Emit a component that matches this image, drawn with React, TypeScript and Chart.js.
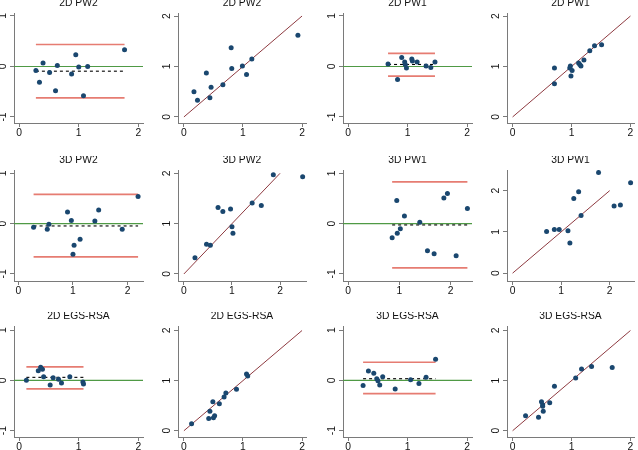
import React, { useEffect, useRef } from "react";
import { Chart, registerables } from "chart.js";
Chart.register(...registerables);

// ---------- data ----------
// 2D PW2
const pw2_2d_avg = [0.28, 0.34, 0.40, 0.51, 0.61, 0.64, 0.88, 0.95, 1.00, 1.08, 1.15, 1.77];
const pw2_2d_dif = [-0.08, -0.31, 0.07, -0.12, -0.48, 0.02, -0.15, 0.23, -0.01, -0.58, 0.00, 0.33];
const pw2_2d_loa = [0.435, -0.093, -0.62];
const pw2_2d_x = [0.17, 0.23, 0.38, 0.44, 0.46, 0.66, 0.80, 0.81, 0.99, 1.06, 1.15, 1.93];
const pw2_2d_y = [0.50, 0.33, 0.87, 0.38, 0.59, 0.64, 1.37, 0.96, 1.01, 0.84, 1.15, 1.62];
// 2D PW1
const pw1_2d_avg = [0.67, 0.83, 0.90, 0.95, 0.96, 0.98, 1.07, 1.08, 1.16, 1.31, 1.39, 1.46];
const pw1_2d_dif = [0.05, -0.26, 0.18, 0.09, 0.04, -0.03, 0.15, 0.11, 0.09, 0.01, -0.02, 0.09];
const pw1_2d_loa = [0.26, 0.04, -0.19];
const pw1_2d_x = [0.71, 0.71, 0.97, 0.98, 0.99, 1.01, 1.12, 1.14, 1.16, 1.21, 1.31, 1.39, 1.51];
const pw1_2d_y = [0.97, 0.66, 0.97, 1.01, 0.81, 0.92, 1.07, 1.04, 1.01, 1.13, 1.31, 1.41, 1.43];
// 3D PW2
const pw2_3d_avg = [0.28, 0.53, 0.56, 0.90, 0.97, 1.02, 1.00, 1.13, 1.40, 1.47, 1.90, 2.19];
const pw2_3d_dif = [-0.07, -0.11, -0.01, 0.23, 0.06, -0.43, -0.61, -0.31, 0.05, 0.27, -0.11, 0.54];
const pw2_3d_loa = [0.58, -0.046, -0.66];
const pw2_3d_x = [0.23, 0.47, 0.55, 0.71, 0.81, 0.97, 1.00, 1.02, 1.42, 1.61, 1.86, 2.47];
const pw2_3d_y = [0.32, 0.59, 0.57, 1.32, 1.24, 1.29, 0.94, 0.81, 1.41, 1.36, 1.97, 1.93];
// 3D PW1
const pw1_3d_avg = [0.86, 0.95, 0.96, 1.02, 1.10, 1.40, 1.55, 1.68, 1.87, 1.94, 2.11, 2.33];
const pw1_3d_dif = [-0.28, 0.46, -0.19, -0.10, 0.15, 0.03, -0.54, -0.60, 0.51, 0.60, -0.64, 0.30];
const pw1_3d_loa = [0.83, -0.026, -0.88];
const pw1_3d_x = [0.70, 0.86, 0.96, 1.14, 1.18, 1.26, 1.36, 1.41, 1.77, 2.09, 2.22, 2.43];
const pw1_3d_y = [1.01, 1.06, 1.06, 1.03, 0.73, 1.81, 1.97, 1.40, 2.44, 1.63, 1.65, 2.19];
// 2D EGS-RSA
const egs_2d_avg = [0.12, 0.32, 0.36, 0.39, 0.41, 0.52, 0.57, 0.66, 0.71, 0.85, 1.07, 1.08];
const egs_2d_dif = [0.00, 0.19, 0.26, 0.22, 0.07, -0.09, 0.05, 0.02, -0.05, 0.07, -0.03, -0.07];
const egs_2d_loa = [0.27, 0.06, -0.17];
const egs_2d_x = [0.13, 0.42, 0.44, 0.49, 0.50, 0.52, 0.60, 0.68, 0.71, 0.89, 1.06, 1.08];
const egs_2d_y = [0.14, 0.245, 0.39, 0.58, 0.26, 0.30, 0.54, 0.675, 0.755, 0.83, 1.13, 1.09];
// 3D EGS-RSA
const egs_3d_avg = [0.25, 0.34, 0.43, 0.48, 0.50, 0.53, 0.58, 0.79, 1.05, 1.19, 1.31, 1.47];
const egs_3d_dif = [-0.10, 0.185, 0.14, 0.03, -0.01, -0.09, 0.07, -0.17, 0.01, -0.06, 0.06, 0.42];
const egs_3d_loa = [0.36, 0.033, -0.265];
const egs_3d_x = [0.22, 0.44, 0.49, 0.51, 0.52, 0.51, 0.63, 0.71, 1.07, 1.17, 1.34, 1.69];
const egs_3d_y = [0.30, 0.27, 0.58, 0.52, 0.39, 0.49, 0.56, 0.89, 1.05, 1.23, 1.28, 1.26];

const xTickVals = [0, 1, 2];
const diffTickVals = [-1, 0, 1];
const scatTickVals = [0, 1, 2];
const identityLine = [0, 2];

// ---------- layout ----------
const COL_AXIS = [14, 178, 343, 507];
const COL_RIGHT = [145, 308, 474, 636];
const ROW_TOP = [13, 170, 326];
const ROW_BOTTOM = [123, 281, 437];
const LEFT_PAD = 18;
const TOP_PAD = 14;
const BOTTOM_PAD = 20;
const RIGHT_PAD = 2;

const POINT = "#1a476f";
const RED = "#e67c72";
const GREEN = "#4f9a45";
const MAROON = "#8e3a40";
const AXIS = "#7a7a7a";
const FONT = '10.3px "Liberation Sans", Arial, Helvetica, sans-serif';

type Spec = {
  title: string;
  kind: "diff" | "scat";
  xs: number[];
  ys: number[];
  loa?: number[];
  col: number;
  row: number;
  x: [number, number];
  y: [number, number];
};

const panels: Spec[] = [
  { title: "2D PW2", kind: "diff", xs: pw2_2d_avg, ys: pw2_2d_dif, loa: pw2_2d_loa, col: 0, row: 0, x: [-0.088, 2.08], y: [-1.119, 1.059] },
  { title: "2D PW2", kind: "scat", xs: pw2_2d_x, ys: pw2_2d_y, col: 1, row: 0, x: [-0.1, 2.067], y: [-0.12, 2.06] },
  { title: "2D PW1", kind: "diff", xs: pw1_2d_avg, ys: pw1_2d_dif, loa: pw1_2d_loa, col: 2, row: 0, x: [-0.088, 2.083], y: [-1.119, 1.059] },
  { title: "2D PW1", kind: "scat", xs: pw1_2d_x, ys: pw1_2d_y, col: 3, row: 0, x: [-0.095, 2.06], y: [-0.12, 2.06] },
  { title: "3D PW2", kind: "diff", xs: pw2_3d_avg, ys: pw2_3d_dif, loa: pw2_3d_loa, col: 0, row: 1, x: [-0.078, 2.28], y: [-1.14, 1.066] },
  { title: "3D PW2", kind: "scat", xs: pw2_3d_x, ys: pw2_3d_y, col: 1, row: 1, x: [-0.123, 2.54], y: [-0.14, 2.066] },
  { title: "3D PW1", kind: "diff", xs: pw1_3d_avg, ys: pw1_3d_dif, loa: pw1_3d_loa, col: 2, row: 1, x: [-0.1, 2.42], y: [-1.14, 1.066] },
  { title: "3D PW1", kind: "scat", xs: pw1_3d_x, ys: pw1_3d_y, col: 3, row: 1, x: [-0.115, 2.5], y: [-0.19, 2.5] },
  { title: "2D EGS-RSA", kind: "diff", xs: egs_2d_avg, ys: egs_2d_dif, loa: egs_2d_loa, col: 0, row: 2, x: [-0.088, 2.08], y: [-1.125, 1.08] },
  { title: "2D EGS-RSA", kind: "scat", xs: egs_2d_x, ys: egs_2d_y, col: 1, row: 2, x: [-0.1, 2.067], y: [-0.125, 2.09] },
  { title: "3D EGS-RSA", kind: "diff", xs: egs_3d_avg, ys: egs_3d_dif, loa: egs_3d_loa, col: 2, row: 2, x: [-0.088, 2.083], y: [-1.125, 1.08] },
  { title: "3D EGS-RSA", kind: "scat", xs: egs_3d_x, ys: egs_3d_y, col: 3, row: 2, x: [-0.095, 2.06], y: [-0.125, 2.09] },
];

const stataPlugin = {
  id: "stataText",
  afterDraw(chart: any, _args: any, opts: any) {
    const { ctx, chartArea, scales } = chart;
    ctx.save();
    ctx.fillStyle = "#111";
    ctx.font = FONT;
    ctx.textAlign = "center";
    ctx.textBaseline = "middle";
    ctx.fillText(opts.title, (chartArea.left + chartArea.right) / 2, chartArea.top - 9.5);
    for (const v of opts.yTicks as number[]) {
      const py = scales.y.getPixelForValue(v);
      ctx.save();
      ctx.translate(chartArea.left - 10.5, py);
      ctx.rotate(-Math.PI / 2);
      ctx.fillText(String(v), 0, 0);
      ctx.restore();
    }
    for (const v of opts.xTicks as number[]) {
      const px = scales.x.getPixelForValue(v);
      ctx.fillText(String(v), px, chartArea.bottom + 10);
    }
    ctx.restore();
  },
};

function lineDs(data: { x: number; y: number }[], color: string, width: number, dash: number[] = []) {
  return {
    data,
    showLine: true,
    pointRadius: 0,
    pointHoverRadius: 0,
    borderColor: color,
    borderWidth: width,
    borderDash: dash,
    fill: false,
  };
}

function Panel({ spec }: { spec: Spec }) {
  const ref = useRef<HTMLCanvasElement>(null);
  const axisX = COL_AXIS[spec.col];
  const right = COL_RIGHT[spec.col];
  const top = ROW_TOP[spec.row];
  const bottom = ROW_BOTTOM[spec.row];
  const W = right - axisX + LEFT_PAD + RIGHT_PAD;
  const H = bottom - top + TOP_PAD + BOTTOM_PAD;

  useEffect(() => {
    if (!ref.current) return;
    const pts = spec.xs.map((x, i) => ({ x, y: spec.ys[i] }));
    const datasets: any[] = [
      {
        data: pts,
        pointRadius: 2.5,
        pointBackgroundColor: POINT,
        pointBorderColor: POINT,
        pointBorderWidth: 0,
        showLine: false,
      },
    ];
    const yTicks = spec.kind === "diff" ? diffTickVals : scatTickVals;
    if (spec.kind === "diff" && spec.loa) {
      const lo = Math.min(...spec.xs);
      const hi = Math.max(...spec.xs);
      datasets.push(lineDs([{ x: lo, y: spec.loa[1] }, { x: hi, y: spec.loa[1] }], "#000", 1.1, [3, 3]));
      datasets.push(lineDs([{ x: lo, y: spec.loa[0] }, { x: hi, y: spec.loa[0] }], RED, 1.7));
      datasets.push(lineDs([{ x: lo, y: spec.loa[2] }, { x: hi, y: spec.loa[2] }], RED, 1.7));
      datasets.push(lineDs([{ x: spec.x[0], y: 0 }, { x: spec.x[1], y: 0 }], GREEN, 1.2));
    } else {
      datasets.push(
        lineDs(
          [
            { x: identityLine[0], y: identityLine[0] },
            { x: identityLine[1], y: identityLine[1] },
          ],
          MAROON,
          1
        )
      );
    }
    const mkScale = (min: number, max: number, ticks: number[], isX: boolean) => ({
      type: "linear" as const,
      min,
      max,
      afterBuildTicks: (s: any) => {
        s.ticks = ticks.map((v) => ({ value: v }));
      },
      afterFit: (s: any) => {
        if (isX) s.height = BOTTOM_PAD;
        else s.width = LEFT_PAD;
      },
      ticks: { display: false },
      grid: {
        display: true,
        drawOnChartArea: false,
        drawTicks: true,
        tickLength: 4,
        color: AXIS,
        lineWidth: 1,
      },
      border: { display: true, color: AXIS, width: 1 },
    });
    const chart = new Chart(ref.current, {
      type: "scatter",
      data: { datasets },
      options: {
        responsive: false,
        animation: false,
        devicePixelRatio: 1,
        layout: { padding: { left: 0, top: TOP_PAD, right: RIGHT_PAD, bottom: 0 } },
        plugins: {
          legend: { display: false },
          tooltip: { enabled: false },
          title: { display: false },
          stataText: { title: spec.title, yTicks, xTicks: xTickVals },
        } as any,
        scales: {
          x: mkScale(spec.x[0], spec.x[1], xTickVals, true),
          y: mkScale(spec.y[0], spec.y[1], yTicks, false),
        } as any,
      },
      plugins: [stataPlugin],
    });
    return () => chart.destroy();
  }, []);

  return (
    <canvas
      ref={ref}
      width={W}
      height={H}
      style={{ position: "absolute", left: axisX - LEFT_PAD, top: top - TOP_PAD, width: W, height: H }}
    />
  );
}

export default function App() {
  return (
    <div style={{ position: "fixed", left: 0, top: 0, width: 638, height: 450, background: "#fff", overflow: "hidden" }}>
      {panels.map((p, i) => (
        <Panel key={i} spec={p} />
      ))}
    </div>
  );
}
